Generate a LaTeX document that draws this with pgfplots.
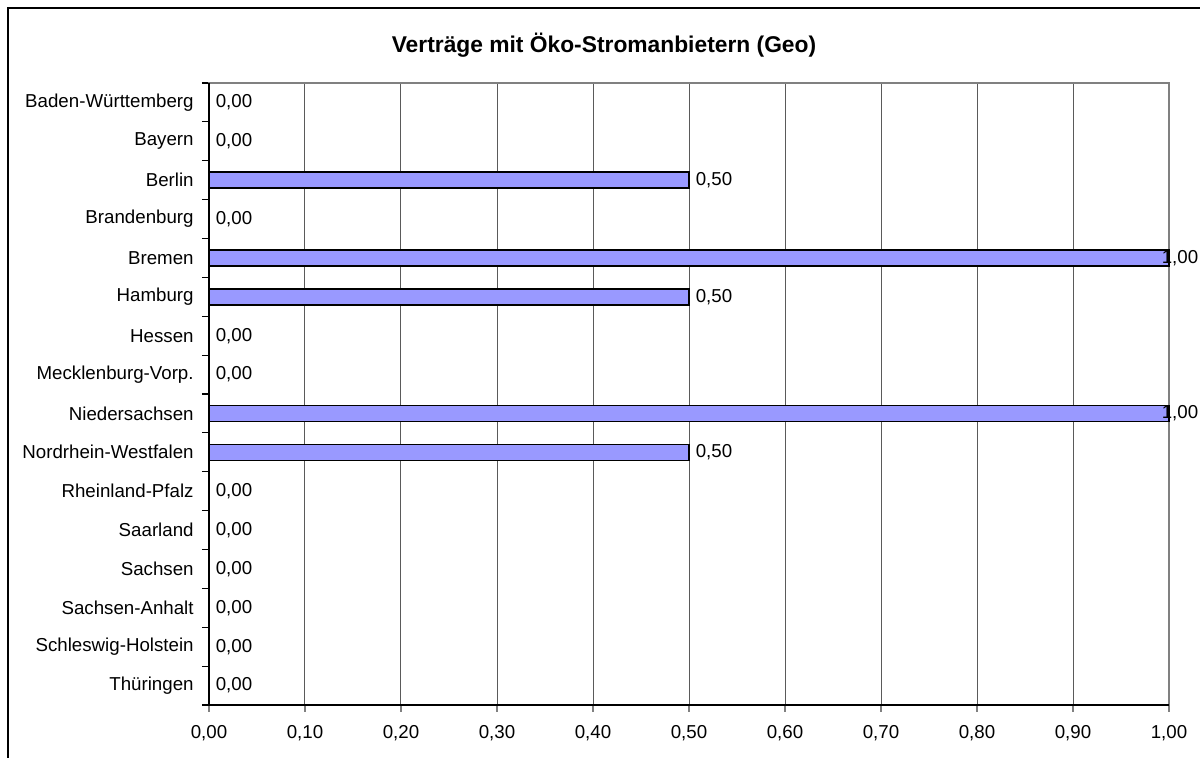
\documentclass[border=0pt]{standalone}
\usepackage{fontspec}
\setmainfont{Liberation Sans}
\usepackage{pgfplots}
\pgfplotsset{compat=1.18}
\definecolor{barblue}{RGB}{153,153,255}
\definecolor{gridgray}{RGB}{90,90,90}

\begin{document}
\begin{tikzpicture}
\path[use as bounding box] (-104.5pt,-26.5pt) rectangle (495.5pt,352.5pt);
% outer chart frame (only top and left visible)
\draw[line width=0.8pt] (-100.5pt,-40pt) -- (-100.5pt,348.5pt) -- (520pt,348.5pt);
\node[font=\fontsize{11.4}{13}\selectfont\bfseries] at (197.5pt,330pt) {Verträge mit Öko-Stromanbietern (Geo)};
\begin{axis}[
    at={(0pt,0pt)}, anchor=south west,
    scale only axis,
    width=480pt, height=311pt,
    xbar, bar width=8pt,
    xmin=0, xmax=1,
    ymin=-0.5, ymax=15.5,
    y dir=reverse,
    xtick={0,0.1,0.2,0.3,0.4,0.5,0.6,0.7,0.8,0.9,1},
    % category boundaries carry the tick marks
    ytick={-0.5,0.5,1.5,2.5,3.5,4.5,5.5,6.5,7.5,8.5,9.5,10.5,11.5,12.5,13.5,14.5,15.5},
    yticklabels={},
    % category names sit at the bar centres
    extra y ticks={0,...,15},
    extra y tick labels={Baden-Württemberg, Bayern, Berlin, Brandenburg, Bremen, Hamburg, Hessen, Mecklenburg-Vorp., Niedersachsen, Nordrhein-Westfalen, Rheinland-Pfalz, Saarland, Sachsen, Sachsen-Anhalt, Schleswig-Holstein, Thüringen},
    extra y tick style={major tick length=0pt, tick style={draw=none},
        yticklabel style={inner sep=0pt, xshift=-7.5pt}},
    xtick pos=lower, ytick pos=left,
    y tick style={black, line width=0.6pt},
    x tick style={gray, line width=0.6pt},
    tick align=outside,
    major tick length=3.5pt,
    xmajorgrids=true,
    grid style={gridgray, line width=0.5pt},
    axis line style={draw=gray, line width=0.6pt},
    ticklabel style={font=\fontsize{9.35}{11}\selectfont},
    xticklabel style={yshift=-3pt},
    /pgf/number format/.cd, fixed, fixed zerofill, precision=2, use comma, assume math mode=true,
    /pgfplots/.cd,
    nodes near coords,
    point meta=x,
    visualization depends on={rawx \as \rawx},
    every node near coord/.append style={font=\fontsize{9.35}{11}\selectfont, anchor=west, inner sep=3pt,
        xshift={(\rawx>0.99)*(-7pt)}},
    clip=false,
]
\addplot[fill=barblue, draw=black, line width=0.8pt] coordinates {
    (0,0) (0,1) (0.5,2) (0,3) (1,4) (0.5,5) (0,6) (0,7)
    (1,8) (0.5,9) (0,10) (0,11) (0,12) (0,13) (0,14) (0,15)};
\draw[black, line width=0.7pt] (axis cs:0,-0.5) -- (axis cs:0,15.5) -- (axis cs:1,15.5);
\end{axis}
\end{tikzpicture}
\end{document}
